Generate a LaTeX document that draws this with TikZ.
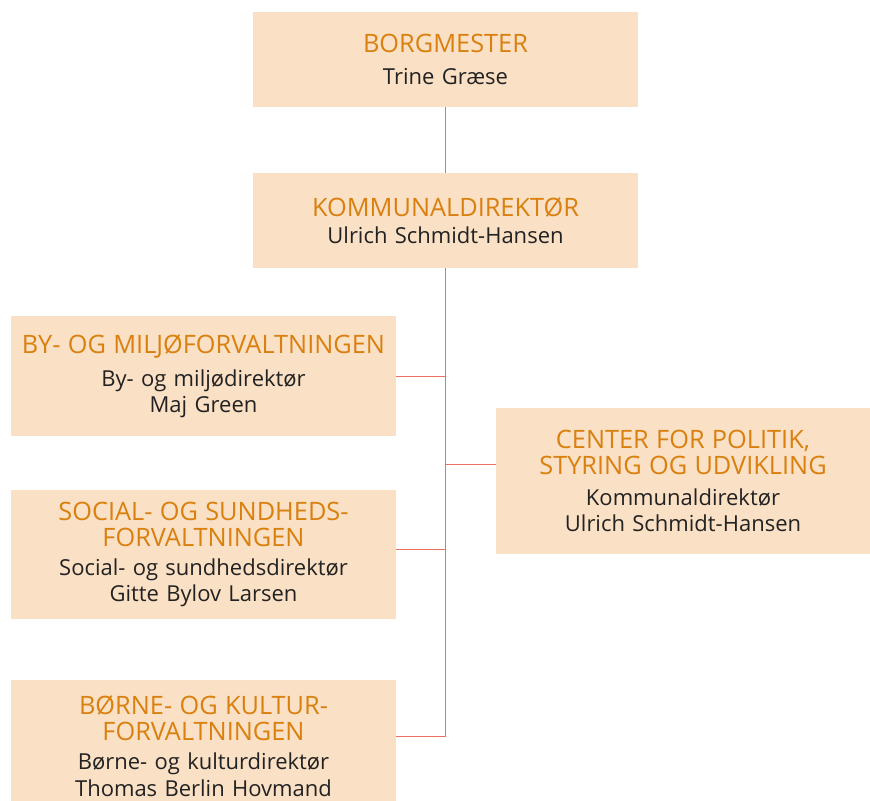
\documentclass[tikz,border=0pt]{standalone}
\usepackage{fontspec}
\setmainfont{Open Sans}
\usetikzlibrary{calc,positioning}

\definecolor{boxfill}{HTML}{FAE0C5}
\definecolor{headcolor}{HTML}{D9800F}
\definecolor{namecolor}{HTML}{222222}
\definecolor{linecolor}{HTML}{EE6E62}
\newcommand{\boxhead}{\color{headcolor}\fontsize{19}{20}\selectfont}

\begin{document}
\begin{tikzpicture}[x=0.75pt,y=-0.75pt,
  every node/.style={fill=boxfill,align=center,inner sep=0pt,text width=285pt,
    minimum width=288.75pt,minimum height=71.25pt,text=namecolor,
    font=\fontsize{16.5}{19.75}\selectfont},
  orgline/.style={draw=linecolor,line width=0.75pt}]
\useasboundingbox (0,0) rectangle (870,800);
\node (Borgmester) at (445.5,59.5) {{\boxhead BORGMESTER}\\[4.5pt] Trine Græse};
\node (Kommunal) at (445.5,220.5) {{\boxhead KOMMUNALDIREKTØR}\\[1pt] Ulrich Schmidt-Hansen};
\node [minimum height=90pt] (ByMiljo) at (203.5,376) {{\boxhead BY- OG MILJØFORVALTNINGEN}\\[5pt] By- og miljødirektør\\ Maj Green};
\node [text width=276pt,minimum width=280.5pt,minimum height=109.5pt] (Center) at (683,481) {{\boxhead CENTER FOR POLITIK,\\ STYRING OG UDVIKLING}\\[3pt] Kommunaldirektør\\ Ulrich Schmidt-Hansen};
\node [minimum height=96.75pt] (Social) at (203.5,554.5) {{\boxhead SOCIAL- OG SUNDHEDS-\\ FORVALTNINGEN}\\[2pt] Social- og sundhedsdirektør\\ Gitte Bylov Larsen};
\node [minimum height=99pt] (Borne) at (203.5,746) {{\boxhead BØRNE- OG KULTUR-\\ FORVALTNINGEN}\\[2pt] Børne- og kulturdirektør\\ Thomas Berlin Hovmand};
\coordinate (CenterIn) at ($(Center.west)+(0,-17)$);
\coordinate (SocialIn) at ($(Social.east)+(0,-5.5)$);
\coordinate (BorneIn) at ($(Borne.east)+(0,-10)$);
\draw [orgline] (Borgmester) -- (Kommunal);
\draw [orgline] (Kommunal.south) |- (BorneIn);
\draw [orgline] (Kommunal.south |- ByMiljo.east) -- (ByMiljo.east);
\draw [orgline] (Kommunal.south |- SocialIn) -- (SocialIn);
\draw [orgline] (Kommunal.south |- CenterIn) -- (CenterIn);
\end{tikzpicture}
\end{document}
